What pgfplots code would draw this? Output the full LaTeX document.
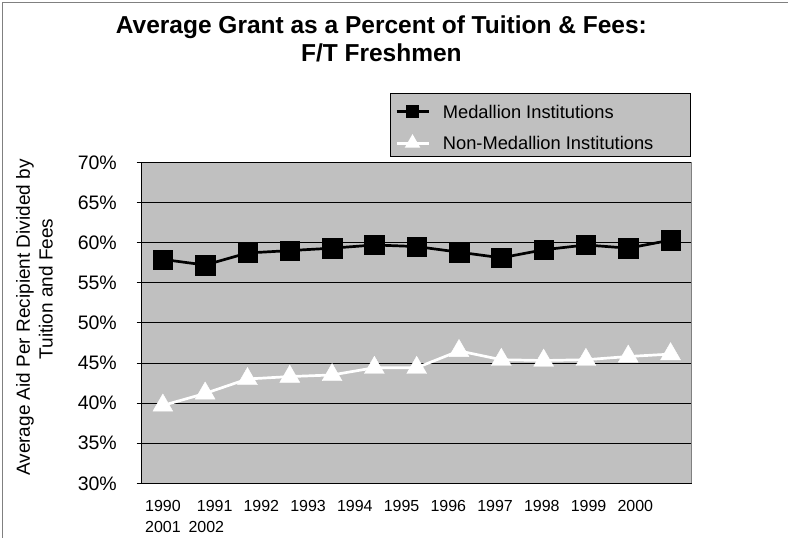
\documentclass[border=0pt]{standalone}
\usepackage{fontspec}
\setmainfont{Liberation Sans}
\usepackage{pgfplots}
\pgfplotsset{compat=1.18}
\definecolor{plotbg}{HTML}{C0C0C0}
\definecolor{framegray}{HTML}{808080}

\begin{document}
\begin{tikzpicture}
\begin{scope}[x=1pt,y=1pt]
\path[use as bounding box] (0,0) rectangle (788,-538);
\draw[framegray, line width=1.5pt] (2.5,-538) -- (2.5,-2.5) -- (788,-2.5);
% title
\node[anchor=base, inner sep=0pt, font=\fontsize{24.5}{28}\selectfont\bfseries] at (381.4,-33) {Average Grant as a Percent of Tuition \& Fees:};
\node[anchor=base, inner sep=0pt, font=\fontsize{24.5}{28}\selectfont\bfseries] at (381.4,-61) {F/T Freshmen};
% y axis title
\node[rotate=90, anchor=base, inner sep=0pt, font=\fontsize{19}{22}\selectfont] at (30,-317.5) {Average Aid Per Recipient Divided by};
\node[rotate=90, anchor=base, inner sep=0pt, font=\fontsize{19}{22}\selectfont] at (52.5,-289) {Tuition and Fees};
% legend box
\draw[black, fill=plotbg, line width=1pt] (390,-93.3) rectangle (690,-156.7);
% category labels (wrapped as in the original)
\foreach \xx/\tt in {145/1990,196.7/1991,243.3/1992,290.05/1993,336.8/1994,383.55/1995,430.3/1996,477.05/1997,523.8/1998,570.55/1999,617.3/2000}
  \node[anchor=base west, inner sep=0pt, font=\fontsize{16}{19}\selectfont] at (\xx,-511.7) {\tt};
\foreach \xx/\tt in {145/2001,188.3/2002}
  \node[anchor=base west, inner sep=0pt, font=\fontsize{16}{19}\selectfont] at (\xx,-532.7) {\tt};
\end{scope}

\begin{axis}[
  at={(141.7pt,-483.3pt)}, anchor=south west,
  width=550pt, height=321pt, scale only axis,
  xmin=-0.5, xmax=12.5, ymin=30, ymax=70,
  xtick=\empty,
  ytick={30,35,40,45,50,55,60,65,70},
  yticklabels={30\%,35\%,40\%,45\%,50\%,55\%,60\%,65\%,70\%},
  axis x line*=bottom, axis y line*=left,
  ymajorgrids, grid style={black, line width=0.8pt},
  axis background/.style={fill=plotbg},
  axis line style={black, line width=0.8pt},
  tick style={black, line width=0.8pt},
  tick align=outside, major tick length=5pt,
  yticklabel style={font=\fontsize{19.5}{22}\selectfont, inner sep=0pt, xshift=-19.7pt},
  legend style={at={(0.4605,1.109)}, anchor=west, draw=none, fill=none,
    inner sep=0pt, row sep=17pt, column sep=13pt,
    font=\fontsize{18.3}{21}\selectfont,
    nodes={inner sep=0pt, text height=13pt, text depth=0pt}},
  legend cell align=left,
  clip=false,
]
\draw[framegray, line width=1.2pt] (rel axis cs:1,0) -- (rel axis cs:1,1);

\addplot[black, line width=2.7pt, mark=square*, mark size=9.7pt,
  mark options={solid, fill=black, draw=black, line width=0.4pt},
  legend image code/.code={
    \draw[black, line width=2.7pt] (0pt,0pt) -- (32pt,0pt);
    \fill[black] (10.6pt,-5.4pt) rectangle (21.4pt,5.4pt);}]
coordinates {(0,57.9) (1,57.2) (2,58.7) (3,59.0) (4,59.3) (5,59.7) (6,59.5) (7,58.8) (8,58.1) (9,59.1) (10,59.7) (11,59.3) (12,60.3)};
\addlegendentry{Medallion Institutions}

\addplot[white, line width=2.7pt, mark=triangle*, mark size=11.5pt,
  mark options={solid, fill=white, draw=white, line width=0.4pt},
  legend image code/.code={
    \draw[white, line width=2.7pt] (0pt,0pt) -- (32pt,0pt);
    \fill[white] (16pt,6.4pt) -- (10.5pt,-3.2pt) -- (21.5pt,-3.2pt) -- cycle;}]
coordinates {(0,39.7) (1,41.2) (2,43.0) (3,43.3) (4,43.5) (5,44.4) (6,44.4) (7,46.5) (8,45.4) (9,45.3) (10,45.4) (11,45.8) (12,46.1)};
\addlegendentry{Non-Medallion Institutions}
\end{axis}
\end{tikzpicture}
\end{document}
